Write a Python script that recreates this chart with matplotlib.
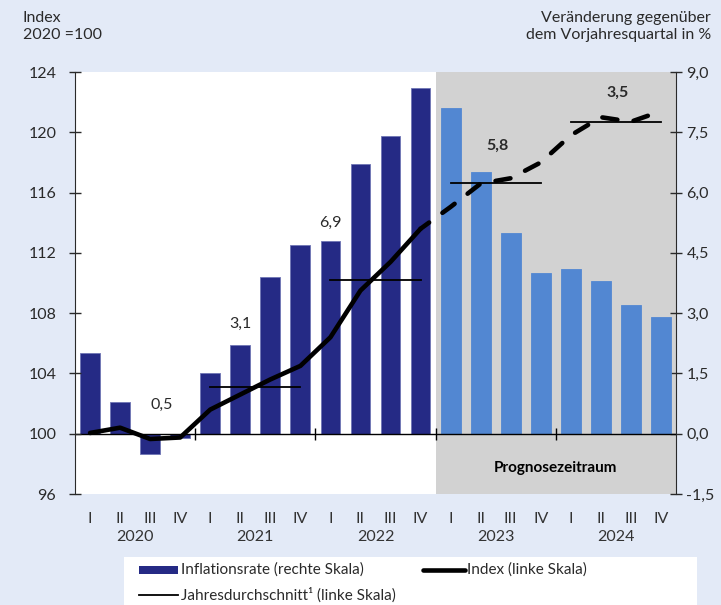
import matplotlib.pyplot as plt
from matplotlib.patches import Rectangle
from matplotlib.lines import Line2D
import matplotlib.transforms as mtransforms

plt.rcParams['font.family'] = ['Lato', 'DejaVu Sans']

# Daten
quartale = ['I', 'II', 'III', 'IV'] * 5
jahre = ['2020', '2021', '2022', '2023', '2024']
inflationsrate = [2.0, 0.8, -0.5, -0.1, 1.5, 2.2, 3.9, 4.7,
                  4.8, 6.7, 7.4, 8.6, 8.1, 6.5, 5.0, 4.0,
                  4.1, 3.8, 3.2, 2.9]
index = [100.05, 100.4, 99.65, 99.75, 101.6, 102.6, 103.6, 104.5,
         106.4, 109.5, 111.4, 113.6, 115.05, 116.6, 116.95, 118.0,
         119.8, 121.0, 120.7, 121.4]
jahresdurchschnitt = [100.0, 103.1, 110.2, 116.65, 120.7]
jahresrate = ['0,5', '3,1', '6,9', '5,8', '3,5']
links_ticks = [96, 100, 104, 108, 112, 116, 120, 124]
rechts_ticks = [-1.5, 0.0, 1.5, 3.0, 4.5, 6.0, 7.5, 9.0]
rechts_labels = ['-1,5', '0,0', '1,5', '3,0', '4,5', '6,0', '7,5', '9,0']
n_ist = 12  # Quartale ohne Prognose

bg = '#E3EAF7'
dunkel = '#252A85'
hell = '#5287D2'
grau = '#D2D2D2'
txt = '#2a2a2a'

fig = plt.figure(figsize=(7.21, 6.05), dpi=100, facecolor=bg)
ax = fig.add_axes([75/721, 1 - 494/605, 601/721, 422/605])
ax.set_facecolor('white')
x = list(range(len(quartale)))

# Prognosezeitraum
ax.axvspan(n_ist - 0.5, len(x) - 0.5, color=grau, zorder=0, lw=0)
ax.text((n_ist - 0.5 + len(x) - 0.5) / 2, -0.85, 'Prognosezeitraum', ha='center', va='center',
        fontsize=11, fontweight='bold', color='black')

farben = [dunkel] * n_ist + [hell] * (len(x) - n_ist)
ax.bar(x, inflationsrate, width=0.66, color=farben, zorder=2,
       edgecolor=['#6F75B5'] * n_ist + [hell] * (len(x) - n_ist), linewidth=0.6)
ax.set_ylim(-1.5, 9.0)
ax.set_xlim(-0.5, len(x) - 0.5)

# Nulllinie mit Jahresmarken
ax.axhline(0, color='black', lw=1.0, zorder=3)
grenzen = [4 * k - 0.5 for k in range(1, 5)]
ax.plot(grenzen, [0] * len(grenzen), ls='none', marker='|', ms=9, mew=1.0, color='black', zorder=3)

ax.set_xticks(x, quartale)
ax.tick_params(axis='x', length=0, pad=13, labelsize=11.5, labelcolor='#333333')

trans = mtransforms.blended_transform_factory(ax.transData, fig.transFigure)
for k, j in enumerate(jahre):
    ax.text(4 * k + 1.5, 1 - 537/605, j, transform=trans, ha='center', va='center',
            fontsize=11.5, color='#333333')

# Index (linke Skala)
ax2 = ax.twinx()
ax.yaxis.tick_right()
ax.set_yticks(rechts_ticks, rechts_labels)
ax.tick_params(axis='y', direction='inout', length=9, width=1.0, pad=3, labelsize=11.5, colors=txt)
for s in ['top', 'bottom', 'left']:
    ax.spines[s].set_visible(False)
ax.spines['right'].set_color(txt)

ax2.set_ylim(96, 124)
ax2.yaxis.tick_left()
ax2.set_yticks(links_ticks, [str(v) for v in links_ticks])
ax2.tick_params(axis='y', direction='inout', length=9, width=1.0, pad=9, labelsize=11.5, colors=txt)
for s in ['top', 'bottom', 'right']:
    ax2.spines[s].set_visible(False)
ax2.spines['left'].set_visible(True)
ax2.spines['left'].set_color(txt)

ax2.plot(x[:n_ist], index[:n_ist], color='black', lw=3.3, solid_capstyle='round',
         solid_joinstyle='round', zorder=4)
ax2.plot(x[n_ist - 1:], index[n_ist - 1:], color='black', lw=3.3, ls=(1.0, (3.3, 3.6)),
         dash_capstyle='round', zorder=4)

for k, v in enumerate(jahresdurchschnitt):
    if k == 0:
        continue
    ax2.plot([4 * k, 4 * k + 3], [v, v], color='black', lw=1.3, zorder=5)

label_pos = [(2.4, 101.9), (5.0, 107.3), (8.0, 114.0), (13.55, 119.1), (17.55, 122.6)]
for k, (lx, ly) in enumerate(label_pos):
    ax2.text(lx, ly, jahresrate[k], ha='center', va='center', fontsize=11.5, color=txt,
             fontweight='bold' if k >= 3 else 'normal')

# Achsentitel
fig.text(23/721, 1 - 11/605, 'Index\n2020 =100', ha='left', va='top', fontsize=11.5,
         color=txt, linespacing=1.3)
fig.text(711/721, 1 - 11/605, 'Veränderung gegenüber\ndem Vorjahresquartal in %', ha='right',
         va='top', fontsize=11.5, color=txt, linespacing=1.3)

# Legende
fig.patches.append(Rectangle((124/721, 0), 573/721, 48/605, transform=fig.transFigure,
                             facecolor='white', edgecolor='none'))
fig.patches.append(Rectangle((139/721, 1 - 574/605), 39/721, 8/605, transform=fig.transFigure,
                             facecolor=dunkel, edgecolor='none'))
fig.lines.append(Line2D([423/721, 465/721], [1 - 570/605] * 2, transform=fig.transFigure,
                        color='black', lw=3.3, solid_capstyle='round'))
fig.lines.append(Line2D([139/721, 178/721], [1 - 595/605] * 2, transform=fig.transFigure,
                        color='black', lw=1.3))
fig.text(181/721, 1 - 570/605, 'Inflationsrate (rechte Skala)', ha='left', va='center',
         fontsize=11, color=txt)
fig.text(467/721, 1 - 570/605, 'Index (linke Skala)', ha='left', va='center',
         fontsize=11, color=txt)
fig.text(181/721, 1 - 595/605, 'Jahresdurchschnitt¹ (linke Skala)', ha='left', va='center',
         fontsize=11, color=txt)

fig.savefig('out.png', dpi=100, facecolor=bg)
